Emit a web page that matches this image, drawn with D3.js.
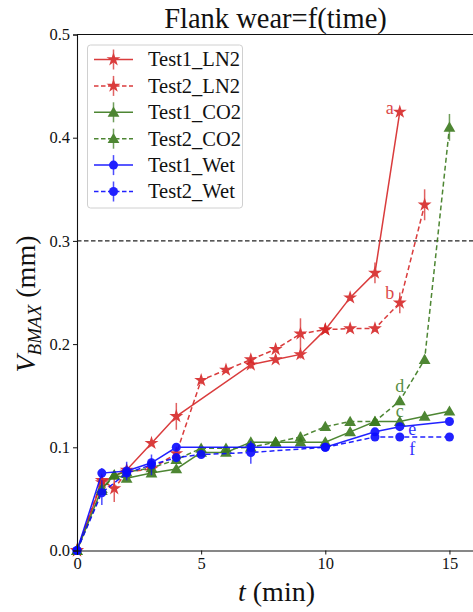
<!DOCTYPE html>
<html>
<head>
<meta charset="utf-8">
<script src="https://cdn.jsdelivr.net/npm/d3@7"></script>
<style>
  body { margin: 0; background: #fff; }
  svg { display: block; font-family: "Liberation Serif", serif; }
</style>
</head>
<body>
<svg id="chart" width="473" height="612"></svg>
<script>
// series data
const tLN2_1 = [0, 1, 2, 3, 4, 7, 8, 9, 10, 11, 12, 13];
const vLN2_1 = [0, 0.066, 0.078, 0.104, 0.130, 0.180, 0.185, 0.190, 0.214, 0.245, 0.269, 0.425];
const eLN2_1 = [0, 0.004, 0.004, 0.003, 0.013, 0.004, 0.003, 0.004, 0.003, 0.003, 0.010, 0.003];

const tLN2_2 = [0, 1, 1.5, 2, 3, 4, 5, 6, 7, 8, 9, 10, 11, 12, 13, 14];
const vLN2_2 = [0, 0.068, 0.060, 0.076, 0.079, 0.094, 0.165, 0.175, 0.185, 0.195, 0.210, 0.214, 0.215, 0.215, 0.240, 0.335];
const eLN2_2 = [0, 0.004, 0.013, 0.003, 0.003, 0.006, 0.004, 0.003, 0.003, 0.003, 0.015, 0.003, 0.003, 0.003, 0.010, 0.015];

const tCO2_1 = [0, 1, 1.5, 2, 3, 4, 5, 6, 7, 8, 9, 10, 11, 12, 13, 14, 15];
const vCO2_1 = [0, 0.060, 0.073, 0.070, 0.075, 0.079, 0.095, 0.095, 0.105, 0.105, 0.105, 0.105, 0.115, 0.125, 0.125, 0.130, 0.135];
const eCO2_1 = [0, 0.003, 0.003, 0.003, 0.003, 0.003, 0.003, 0.003, 0.003, 0.003, 0.003, 0.003, 0.003, 0.003, 0.003, 0.003, 0.003];

const tCO2_2 = [0, 1, 1.5, 2, 3, 4, 5, 6, 7, 8, 9, 10, 11, 12, 13, 14, 15];
const vCO2_2 = [0, 0.058, 0.073, 0.076, 0.080, 0.088, 0.099, 0.099, 0.100, 0.105, 0.110, 0.120, 0.125, 0.125, 0.145, 0.185, 0.410];
const eCO2_2 = [0, 0.003, 0.003, 0.003, 0.003, 0.003, 0.003, 0.003, 0.003, 0.003, 0.005, 0.003, 0.003, 0.003, 0.003, 0.004, 0.013];

const tWet_1 = [0, 1, 2, 3, 4, 7, 10, 12, 13, 15];
const vWet_1 = [0, 0.075, 0.077, 0.085, 0.100, 0.100, 0.100, 0.115, 0.120, 0.125];
const eWet_1 = [0, 0.005, 0.009, 0.004, 0.003, 0.003, 0.003, 0.003, 0.003, 0.003];

const tWet_2 = [0, 1, 2, 3, 4, 5, 7, 10, 12, 13, 15];
const vWet_2 = [0, 0.056, 0.075, 0.083, 0.090, 0.093, 0.095, 0.100, 0.110, 0.110, 0.110];
const eWet_2 = [0, 0.012, 0.004, 0.010, 0.003, 0.003, 0.011, 0.003, 0.003, 0.003, 0.003];

const seriesNames = ["Test1_LN2", "Test2_LN2", "Test1_CO2", "Test2_CO2", "Test1_Wet", "Test2_Wet"];

const xTicks = [0, 5, 10, 15];
const yTicks = [0, 0.1, 0.2, 0.3, 0.4, 0.5];
const limitValue = 0.3;

const noteLetters = ["a", "b", "c", "d", "e", "f"];
const noteX = [12.6, 12.6, 13.0, 13.0, 13.5, 13.5];
const noteY = [0.429, 0.2495, 0.1345, 0.1587, 0.1175, 0.0985];

const red = "#d62728", green = "#3b7a1e", blue = "#0a0aff";

const series = [
  {name: seriesNames[0], t: tLN2_1, v: vLN2_1, e: eLN2_1, color: red, dash: null, sym: d3.symbolStar, size: 60},
  {name: seriesNames[1], t: tLN2_2, v: vLN2_2, e: eLN2_2, color: red, dash: "5,3", sym: d3.symbolStar, size: 60},
  {name: seriesNames[2], t: tCO2_1, v: vCO2_1, e: eCO2_1, color: green, dash: null, sym: d3.symbolTriangle, size: 60},
  {name: seriesNames[3], t: tCO2_2, v: vCO2_2, e: eCO2_2, color: green, dash: "5,3", sym: d3.symbolTriangle, size: 60},
  {name: seriesNames[4], t: tWet_1, v: vWet_1, e: eWet_1, color: blue, dash: null, sym: d3.symbolCircle, size: 64},
  {name: seriesNames[5], t: tWet_2, v: vWet_2, e: eWet_2, color: blue, dash: "5,3", sym: d3.symbolCircle, size: 64}
];
const noteColors = [red, red, green, green, blue, blue];

const svg = d3.select("#chart");
const plotLeft = 77, plotTop = 34.5, plotBottom = 550.5;

const x = d3.scaleLinear().domain([0, 16.2]).range([plotLeft, plotLeft + 16.2 * 24.83]);
const y = d3.scaleLinear().domain([0, 0.5]).range([plotBottom, plotTop]);

// plot area
const plot = svg.append("g");

// reference line
plot.append("line")
    .attr("x1", x(0)).attr("x2", x(16.2))
    .attr("y1", y(limitValue)).attr("y2", y(limitValue))
    .attr("stroke", "#222").attr("stroke-width", 1.3)
    .attr("stroke-dasharray", "4.5,2.5");

const line = d3.line().x(d => x(d[0])).y(d => y(d[1]));

series.forEach(s => {
  const pts = s.t.map((t, i) => [t, s.v[i], s.e[i]]);
  const g = plot.append("g").attr("opacity", 0.9);
  g.append("path")
      .datum(pts)
      .attr("d", line)
      .attr("fill", "none")
      .attr("stroke", s.color)
      .attr("stroke-width", 1.5)
      .attr("stroke-dasharray", s.dash);
  // error bars
  g.selectAll("line.err")
    .data(pts.filter(d => d[2] > 0))
    .enter().append("line")
      .attr("class", "err")
      .attr("x1", d => x(d[0])).attr("x2", d => x(d[0]))
      .attr("y1", d => y(d[1] - d[2])).attr("y2", d => y(d[1] + d[2]))
      .attr("stroke", s.color).attr("stroke-width", 1.5).attr("opacity", 0.8);
  g.selectAll("path.mk")
    .data(pts)
    .enter().append("path")
      .attr("class", "mk")
      .attr("d", d3.symbol().type(s.sym).size(s.size))
      .attr("transform", d => `translate(${x(d[0])},${y(d[1]) + (s.sym === d3.symbolTriangle ? 1 : 0)})`)
      .attr("fill", s.color);
});

// letters next to curve ends
plot.selectAll("text.note")
  .data(noteLetters)
  .enter().append("text")
    .attr("class", "note")
    .attr("x", (d, i) => x(noteX[i]))
    .attr("y", (d, i) => y(noteY[i]))
    .attr("dy", "0.32em")
    .attr("text-anchor", "middle")
    .attr("font-size", 18)
    .attr("fill", (d, i) => noteColors[i])
    .attr("opacity", 0.85)
    .text(d => d);

// axes
const xAxis = svg.append("g")
    .attr("transform", `translate(0,${plotBottom})`)
    .call(d3.axisBottom(x).tickValues(xTicks).tickFormat(d3.format("d")).tickSize(4).tickPadding(3));
const yAxis = svg.append("g")
    .attr("transform", `translate(${plotLeft},0)`)
    .call(d3.axisLeft(y).tickValues(yTicks).tickFormat(d3.format(".1f")).tickSize(4).tickPadding(3));
[xAxis, yAxis].forEach(a => {
  a.select(".domain").attr("stroke", "#111").attr("stroke-width", 1.1);
  a.selectAll(".tick line").attr("stroke", "#111");
  a.selectAll(".tick text")
    .attr("font-family", "Liberation Serif, serif")
    .attr("font-size", 16.5)
    .attr("fill", "#111");
});
// top spine
svg.append("line")
    .attr("x1", plotLeft).attr("x2", x(16.2))
    .attr("y1", plotTop).attr("y2", plotTop)
    .attr("stroke", "#111").attr("stroke-width", 1.1);

// title
svg.append("text")
    .attr("x", 275.5).attr("y", 28)
    .attr("text-anchor", "middle")
    .attr("font-size", 28.5)
    .attr("fill", "#111")
    .text("Flank wear=f(time)");

// x label
const xl = svg.append("text")
    .attr("x", 276.5).attr("y", 601)
    .attr("text-anchor", "middle")
    .attr("font-size", 28)
    .attr("fill", "#111");
xl.append("tspan").attr("font-style", "italic").text("t");
xl.append("tspan").text(" (min)");

// y label
const yl = svg.append("text")
    .attr("transform", "translate(35,304) rotate(-90)")
    .attr("text-anchor", "middle")
    .attr("font-size", 28)
    .attr("fill", "#111");
yl.append("tspan").attr("font-style", "italic").text("V");
yl.append("tspan").attr("font-style", "italic").attr("font-size", 19).attr("dy", 6).text("BMAX");
yl.append("tspan").attr("dy", -6).text(" (mm)");

// legend
const lg = svg.append("g");
lg.append("rect")
    .attr("x", 87.5).attr("y", 45).attr("width", 155).attr("height", 163)
    .attr("rx", 3).attr("fill", "#fff").attr("fill-opacity", 0.8)
    .attr("stroke", "#d0d0d0").attr("stroke-width", 1);
const rowY = d3.scaleLinear().domain([0, 5]).range([59.5, 191.5]);
series.forEach((s, i) => {
  const yy = rowY(i);
  const row = lg.append("g").attr("opacity", 0.9);
  row.append("line")
      .attr("x1", 94).attr("x2", 133).attr("y1", yy).attr("y2", yy)
      .attr("stroke", s.color).attr("stroke-width", 1.5)
      .attr("stroke-dasharray", s.dash ? "4.5,2.5" : null);
  row.append("line")
      .attr("x1", 113.5).attr("x2", 113.5).attr("y1", yy - 10).attr("y2", yy + 10)
      .attr("stroke", s.color).attr("stroke-width", 1.5).attr("opacity", 0.8);
  row.append("path")
      .attr("d", d3.symbol().type(s.sym).size(s.size))
      .attr("transform", `translate(113.5,${yy + (s.sym === d3.symbolTriangle ? 1 : 0)})`)
      .attr("fill", s.color);
  lg.append("text")
      .attr("x", 148).attr("y", yy).attr("dy", "0.34em")
      .attr("font-size", 20.5)
      .attr("fill", "#111")
      .text(s.name);
});
</script>
</body>
</html>
